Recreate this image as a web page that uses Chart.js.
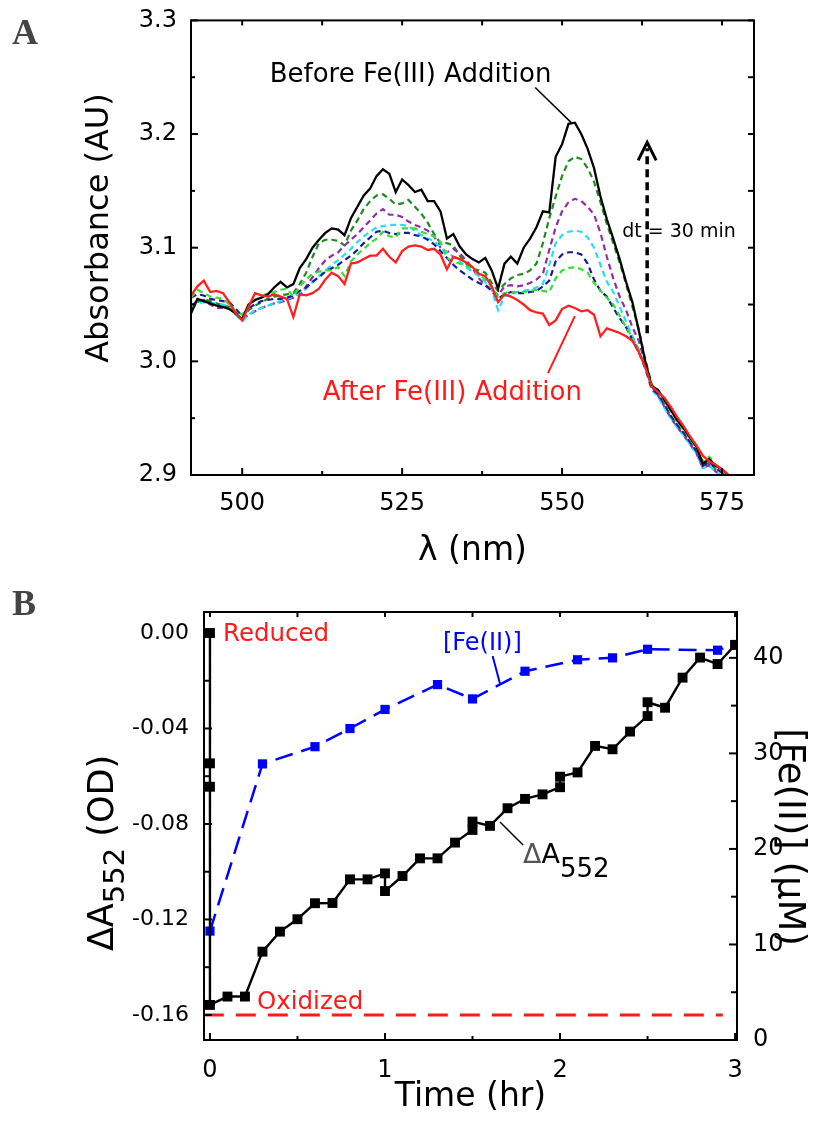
<!DOCTYPE html>
<html><head><meta charset="utf-8">
<script src="https://cdn.jsdelivr.net/npm/chart.js@4.4.1/dist/chart.umd.min.js"></script>
<style>
html,body{margin:0;padding:0;background:#fff;}
#wrap{position:relative;width:825px;height:1124px;overflow:hidden;background:#fff;}
#ca{position:absolute;left:0;top:0;width:825px;height:580px;}
#cb{position:absolute;left:0;top:580px;width:825px;height:544px;}
</style></head><body>
<div id="wrap"><canvas id="ca" width="825" height="580"></canvas><canvas id="cb" width="825" height="544"></canvas></div>
<script>
// ---------- Panel A data ----------
const wavelength = [492,493,494,495,496,497,498,499,500,501,502,503,504,505,506,507,508,509,510,511,512,513,514,515,516,517,518,519,520,521,522,523,524,525,526,527,528,529,530,531,532,533,534,535,536,537,538,539,540,541,542,543,544,545,546,547,548,549,550,551,552,553,554,555,556,557,558,559,560,561,562,563,564,565,566,567,568,569,570,571,572,573,574,575,576,577,578];
const absBefore = [3.042,3.055,3.053,3.051,3.049,3.048,3.046,3.042,3.037,3.050,
 3.054,3.056,3.059,3.065,3.070,3.065,3.068,3.082,3.090,3.100,
 3.107,3.113,3.117,3.116,3.111,3.126,3.136,3.146,3.152,3.163,
 3.169,3.165,3.149,3.160,3.155,3.149,3.151,3.141,3.141,3.132,
 3.108,3.112,3.101,3.094,3.090,3.087,3.091,3.080,3.064,3.086,
 3.092,3.086,3.100,3.108,3.118,3.132,3.131,3.180,3.191,3.209,
 3.210,3.200,3.187,3.170,3.145,3.125,3.108,3.090,3.070,3.052,
 3.027,3.000,2.978,2.975,2.966,2.957,2.948,2.941,2.933,2.925,
 2.910,2.914,2.908,2.905,2.900,2.894,2.888];
const absT1 = [3.045,3.052,3.055,3.053,3.051,3.049,3.048,3.043,3.038,3.045,
 3.049,3.052,3.055,3.057,3.058,3.059,3.060,3.068,3.078,3.092,
 3.104,3.107,3.107,3.106,3.102,3.115,3.124,3.134,3.141,3.146,
 3.147,3.143,3.138,3.139,3.142,3.136,3.130,3.122,3.112,3.104,
 3.104,3.102,3.093,3.086,3.081,3.080,3.078,3.069,3.062,3.068,
 3.073,3.076,3.077,3.080,3.086,3.104,3.126,3.145,3.163,3.176,
 3.180,3.178,3.170,3.158,3.140,3.121,3.104,3.087,3.068,3.048,
 3.028,3.002,2.980,2.972,2.962,2.952,2.944,2.937,2.929,2.921,
 2.908,2.911,2.905,2.902,2.897,2.892,2.886];
const absT2 = [3.049,3.053,3.054,3.050,3.047,3.047,3.047,3.041,3.037,3.041,
 3.044,3.047,3.049,3.051,3.052,3.054,3.056,3.058,3.066,3.074,
 3.082,3.089,3.093,3.096,3.102,3.107,3.112,3.118,3.124,3.130,
 3.134,3.129,3.129,3.127,3.123,3.120,3.118,3.115,3.110,3.100,
 3.096,3.099,3.095,3.089,3.082,3.073,3.067,3.063,3.058,3.066,
 3.067,3.066,3.067,3.069,3.072,3.077,3.098,3.118,3.132,3.140,
 3.143,3.141,3.136,3.129,3.113,3.092,3.073,3.057,3.045,3.030,
 3.018,2.998,2.978,2.970,2.960,2.950,2.942,2.935,2.927,2.919,
 2.906,2.909,2.903,2.900,2.895,2.890,2.885];
const absT3 = [3.048,3.051,3.052,3.051,3.051,3.050,3.048,3.041,3.035,3.041,
 3.045,3.047,3.049,3.051,3.053,3.055,3.057,3.060,3.064,3.070,
 3.075,3.080,3.085,3.089,3.094,3.099,3.105,3.110,3.114,3.118,
 3.119,3.120,3.120,3.120,3.119,3.115,3.111,3.108,3.106,3.100,
 3.096,3.092,3.088,3.083,3.079,3.075,3.070,3.063,3.045,3.057,
 3.059,3.061,3.062,3.063,3.065,3.068,3.085,3.104,3.111,3.114,
 3.115,3.114,3.109,3.100,3.085,3.070,3.061,3.048,3.035,3.022,
 3.010,2.994,2.975,2.969,2.959,2.950,2.942,2.935,2.927,2.919,
 2.906,2.908,2.903,2.899,2.894,2.889,2.884];
const absT4 = [3.056,3.059,3.058,3.055,3.054,3.053,3.052,3.046,3.040,3.047,
 3.050,3.053,3.054,3.055,3.055,3.056,3.058,3.062,3.065,3.070,
 3.074,3.079,3.082,3.085,3.089,3.093,3.098,3.104,3.109,3.114,
 3.115,3.113,3.112,3.113,3.113,3.111,3.110,3.107,3.103,3.097,
 3.091,3.085,3.080,3.076,3.072,3.069,3.067,3.062,3.055,3.059,
 3.061,3.060,3.060,3.061,3.062,3.066,3.071,3.088,3.094,3.096,
 3.096,3.094,3.086,3.072,3.062,3.057,3.047,3.038,3.030,3.019,
 3.008,2.994,2.976,2.971,2.962,2.952,2.944,2.937,2.929,2.921,
 2.908,2.912,2.906,2.902,2.897,2.891,2.886];
const absT5 = [3.056,3.063,3.060,3.057,3.056,3.055,3.050,3.044,3.041,3.048,
 3.054,3.057,3.060,3.061,3.063,3.064,3.057,3.066,3.072,3.077,
 3.079,3.080,3.080,3.083,3.075,3.088,3.094,3.099,3.104,3.108,
 3.114,3.110,3.109,3.117,3.117,3.117,3.114,3.112,3.110,3.105,
 3.091,3.088,3.086,3.084,3.082,3.077,3.072,3.065,3.057,3.060,
 3.061,3.061,3.061,3.062,3.063,3.062,3.061,3.073,3.080,3.082,
 3.083,3.081,3.078,3.069,3.062,3.056,3.050,3.040,3.030,3.021,
 3.010,2.996,2.978,2.974,2.965,2.956,2.947,2.940,2.932,2.924,
 2.912,2.916,2.909,2.905,2.900,2.894,2.889];
const absAfter = [3.058,3.066,3.071,3.061,3.062,3.060,3.052,3.042,3.036,3.048,
 3.060,3.058,3.057,3.059,3.057,3.055,3.039,3.059,3.058,3.060,
 3.064,3.072,3.078,3.075,3.068,3.086,3.087,3.090,3.093,3.093,
 3.099,3.092,3.087,3.097,3.101,3.102,3.101,3.098,3.099,3.094,
 3.081,3.092,3.090,3.087,3.083,3.077,3.075,3.066,3.052,3.059,
 3.057,3.054,3.050,3.045,3.043,3.042,3.032,3.036,3.046,3.049,
 3.047,3.044,3.045,3.041,3.022,3.029,3.027,3.025,3.022,3.018,
 3.008,2.995,2.978,2.973,2.968,2.960,2.951,2.943,2.934,2.926,
 2.917,2.912,2.909,2.905,2.900,2.895,2.889];

const xTicksA = [500,525,550,575];
const xMinorA = [512.5,537.5,562.5];
const yTicksA = [2.9,3.0,3.1,3.2,3.3];
const yLabelsA = ['2.9','3.0','3.1','3.2','3.3'];
const yMinorA = [2.95,3.05,3.15,3.25];

// ---------- Panel B data ----------
const timeA552 = [0,0,0,0,0.1,0.2,0.3,0.4,0.5,0.6,0.7,0.8,0.9,1.0,1.0,1.1,1.2,1.3,1.4,1.5,1.5,1.6,1.7,1.8,1.9,2.0,2.0,2.1,2.2,2.3,2.4,2.5,2.5,2.6,2.7,2.8,2.9,3.0];
const dA552 = [0.000,-0.0546,-0.0644,-0.1558,-0.1523,-0.1523,-0.1335,-0.1251,-0.1199,-0.1132,-0.1131,-0.1032,-0.1032,-0.1007,-0.1081,-0.1018,-0.0944,-0.0944,-0.0878,-0.0825,-0.0790,-0.0808,-0.0734,-0.0695,-0.0676,-0.0646,-0.0602,-0.0584,-0.0473,-0.0487,-0.0413,-0.0348,-0.0290,-0.0313,-0.0187,-0.0103,-0.0130,-0.0050];
const timeFe = [0,0.3,0.6,0.8,1.0,1.3,1.5,1.8,2.1,2.3,2.5,2.9,3.0];
const feII = [11.4,28.9,30.7,32.6,34.6,37.2,35.7,38.6,39.8,40.0,40.9,40.8,41.4];
const oxidizedLevel = -0.16;
const oxidizedSpan = [-0.035, 2.93];

const xTicksB = [0,1,2,3];
const xMinorB = [0.5,1.5,2.5];
const yTicksB = [-0.16,-0.12,-0.08,-0.04,0];
const yLabelsB = ['-0.16','-0.12','-0.08','-0.04','0.00'];
const yMinorB = [-0.14,-0.10,-0.06,-0.02];
const y2TicksB = [0,10,20,30,40];
const y2MinorB = [5,15,25,35];

// ---------- helpers ----------
const FONT = '"DejaVu Sans", "Liberation Sans", Arial, sans-serif';
function pts(xs, ys){ return xs.map((x,i)=>({x:x, y:ys[i]})); }
function line(ctx,x1,y1,x2,y2){ ctx.beginPath(); ctx.moveTo(x1,y1); ctx.lineTo(x2,y2); ctx.stroke(); }
function rich(ctx, parts, x, y, rot, align){
  ctx.save(); ctx.translate(x,y); ctx.rotate(rot||0);
  let total=0;
  parts.forEach(p=>{ ctx.font=(p.weight||'')+' '+p.size+'px '+(p.family||FONT); p.w=ctx.measureText(p.t).width; total+=p.w; });
  let cx = align==='center' ? -total/2 : (align==='right' ? -total : 0);
  ctx.textAlign='left'; ctx.textBaseline='alphabetic';
  parts.forEach(p=>{ ctx.font=(p.weight||'')+' '+p.size+'px '+(p.family||FONT); ctx.fillStyle=p.color||'#000'; ctx.fillText(p.t,cx,p.dy||0); cx+=p.w; });
  ctx.restore();
}
function frame(chart, spec){
  const ctx=chart.ctx, a=chart.chartArea;
  ctx.save(); ctx.strokeStyle='#000'; ctx.lineWidth=2; ctx.lineCap='butt';
  ctx.strokeRect(a.left, a.top, a.right-a.left, a.bottom-a.top);
  const sx=chart.scales.x, sy=chart.scales.y;
  spec.bottom.forEach(([v,l])=>{ const p=sx.getPixelForValue(v); line(ctx,p,a.bottom,p,a.bottom-l); });
  spec.top.forEach(([v,l])=>{ const p=sx.getPixelForValue(v); line(ctx,p,a.top,p,a.top+l); });
  spec.left.forEach(([v,l])=>{ const p=sy.getPixelForValue(v); line(ctx,a.left,p,a.left+l,p); });
  const sr = spec.rightScale ? chart.scales[spec.rightScale] : sy;
  spec.right.forEach(([v,l])=>{ const p=sr.getPixelForValue(v); line(ctx,a.right,p,a.right-l,p); });
  ctx.restore();
}
const withLen = (arr,l)=>arr.map(v=>[v,l]);

// ---------- Chart A ----------
const dsA = (data, color, dash, w)=>({data:pts(wavelength,data), borderColor:color, borderWidth:w||2, borderDash:dash||[], pointRadius:0, tension:0, fill:false});
const annotA = {
  id:'annotA',
  afterDatasetsDraw(chart){
    const ctx=chart.ctx, sx=chart.scales.x, sy=chart.scales.y;
    frame(chart,{
      bottom: withLen(xTicksA,7).concat(withLen(xMinorA,4)),
      top: withLen(xTicksA.concat(xMinorA),5),
      left: withLen(yTicksA,7).concat(withLen(yMinorA,4)),
      right: withLen(yTicksA.concat(yMinorA),6)
    });
    const X=v=>sx.getPixelForValue(v), Y=v=>sy.getPixelForValue(v);
    rich(ctx,[{t:'A',size:36,weight:'bold',family:'"Liberation Serif", "DejaVu Serif", serif',color:'#444'}],12,44,0,'left');
    rich(ctx,[{t:'Absorbance (AU)',size:32}],108,228,-Math.PI/2,'center');
    rich(ctx,[{t:'λ (nm)',size:33}],(chart.chartArea.left+chart.chartArea.right)/2,560,0,'center');
    rich(ctx,[{t:'Before Fe(III) Addition',size:26}],X(504.3),Y(3.2455),0,'left');
    ctx.save(); ctx.strokeStyle='#000'; ctx.lineWidth=1.5; line(ctx,X(545.8),Y(3.241),X(551.4),Y(3.2103)); ctx.restore();
    rich(ctx,[{t:'After Fe(III) Addition',size:26,color:'#ff1a1a'}],X(512.6),Y(2.966),0,'left');
    ctx.save(); ctx.strokeStyle='#ff1a1a'; ctx.lineWidth=2; line(ctx,X(547.8),Y(2.9897),X(552.0),Y(3.0398)); ctx.restore();
    ctx.save(); ctx.strokeStyle='#000'; ctx.lineWidth=3.5;
    ctx.setLineDash([8,5]); line(ctx,X(563.3),Y(3.0248),X(563.3),Y(3.1875));
    ctx.setLineDash([]); ctx.lineWidth=3;
    ctx.beginPath(); const ax=X(563.3), ay=Y(3.1927);
    ctx.moveTo(ax-9,ay+18); ctx.lineTo(ax,ay); ctx.lineTo(ax+9,ay+18); ctx.stroke(); ctx.restore();
    rich(ctx,[{t:'dt = 30 min',size:19}],X(559.4),Y(3.1092),0,'left');
  }
};
new Chart(document.getElementById('ca'),{
  type:'line',
  data:{datasets:[
    dsA(absAfter,'#ff2020',[],2.3),
    dsA(absBefore,'#000000',[],2.3),
    dsA(absT5,'#33e033',[6,4],2.2),
    dsA(absT4,'#1a1a9a',[6,4],2.2),
    dsA(absT3,'#22e0f0',[6,4],2.2),
    dsA(absT2,'#8e2fa6',[6,4],2.2),
    dsA(absT1,'#1f8a1f',[6,4],2.2)
  ]},
  options:{
    responsive:false, animation:false, events:[],
    layout:{padding:{top:20,right:71,left:0,bottom:0}},
    plugins:{legend:{display:false},tooltip:{enabled:false}},
    scales:{
      x:{type:'linear',min:492,max:580,grid:{display:false},border:{display:false},
        afterBuildTicks:s=>{s.ticks=xTicksA.map(v=>({value:v}));},
        afterFit:s=>{s.height=105;},
        ticks:{font:{family:'DejaVu Sans',size:24},color:'#000',padding:6,maxRotation:0,autoSkip:false}},
      y:{type:'linear',min:2.9,max:3.3,grid:{display:false},border:{display:false},
        afterBuildTicks:s=>{s.ticks=yTicksA.map(v=>({value:v}));},
        afterFit:s=>{s.width=191;},
        ticks:{font:{family:'DejaVu Sans',size:24},color:'#000',padding:6,autoSkip:false,callback:(v,i)=>yLabelsA[i]}}
    }
  },
  plugins:[annotA]
});

// ---------- Chart B ----------
const annotB = {
  id:'annotB',
  afterDatasetsDraw(chart){
    const ctx=chart.ctx, sx=chart.scales.x, sy=chart.scales.y, s2=chart.scales.y2, a=chart.chartArea;
    frame(chart,{
      bottom: withLen(xTicksB,7).concat(withLen(xMinorB,4)),
      top: withLen(xTicksB.concat(xMinorB),5),
      left: withLen(yTicksB,8).concat(withLen(yMinorB,6)),
      right: withLen(y2TicksB,8).concat(withLen(y2MinorB,6)),
      rightScale:'y2'
    });
    const X=v=>sx.getPixelForValue(v), Y=v=>sy.getPixelForValue(v), Y2=v=>s2.getPixelForValue(v);
    rich(ctx,[{t:'B',size:36,weight:'bold',family:'"Liberation Serif", "DejaVu Serif", serif',color:'#444'}],12,35,0,'left');
    rich(ctx,[{t:'ΔA',size:35},{t:'552',size:29,dy:11},{t:' (OD)',size:35}],113,273,-Math.PI/2,'center');
    rich(ctx,[{t:'[Fe(II)] (μM)',size:37}],779,257,Math.PI/2,'center');
    rich(ctx,[{t:'Time (hr)',size:33}],(a.left+a.right)/2,526,0,'center');
    rich(ctx,[{t:'Reduced',size:24.5,color:'#ff1a1a'}],X(0.0743),Y(-0.0032),0,'left');
    rich(ctx,[{t:'Oxidized',size:24.5,color:'#ff1a1a'}],X(0.2686),Y(-0.1576),0,'left');
    rich(ctx,[{t:'[Fe(II)]',size:24,color:'#0000ff'}],X(1.331),Y2(40.84),0,'left');
    ctx.save(); ctx.strokeStyle='#0000ff'; ctx.lineWidth=2; line(ctx,X(1.615),Y2(40.2),X(1.657),Y2(37.3)); ctx.restore();
    rich(ctx,[{t:'Δ',size:27,color:'#555'},{t:'A',size:27},{t:'552',size:26,dy:14}],X(1.789),Y(-0.0963),0,'left');
    ctx.save(); ctx.strokeStyle='#000'; ctx.lineWidth=1.5; line(ctx,X(1.657),Y(-0.0792),X(1.789),Y(-0.0888)); ctx.restore();
  }
};
new Chart(document.getElementById('cb'),{
  type:'line',
  data:{datasets:[
    {data:pts(timeA552,dA552),yAxisID:'y',borderColor:'#000',borderWidth:2.4,tension:0,pointStyle:'rect',pointRadius:7,pointBackgroundColor:'#000',pointBorderWidth:0,fill:false},
    {data:pts(timeFe,feII),yAxisID:'y2',borderColor:'#0000ff',borderWidth:2.5,borderDash:[18,9],tension:0,pointStyle:'rect',pointRadius:6.5,pointBackgroundColor:'#0000ff',pointBorderWidth:0,fill:false},
    {data:pts(oxidizedSpan,[oxidizedLevel,oxidizedLevel]),yAxisID:'y',borderColor:'#ff1a1a',borderWidth:3,borderDash:[20,12],pointRadius:0,tension:0,fill:false}
  ]},
  options:{
    responsive:false, animation:false, events:[],
    layout:{padding:{top:32,right:0,left:0,bottom:0}},
    plugins:{legend:{display:false},tooltip:{enabled:false}},
    scales:{
      x:{type:'linear',min:-0.034,max:3.011,grid:{display:false},border:{display:false},
        afterBuildTicks:s=>{s.ticks=xTicksB.map(v=>({value:v}));},
        afterFit:s=>{s.height=84;},
        ticks:{font:{family:'DejaVu Sans',size:24},color:'#000',padding:8,maxRotation:0,autoSkip:false}},
      y:{type:'linear',position:'left',min:-0.1705,max:0.0088,grid:{display:false},border:{display:false},
        afterBuildTicks:s=>{s.ticks=yTicksB.map(v=>({value:v}));},
        afterFit:s=>{s.width=204;},
        ticks:{font:{family:'DejaVu Sans',size:22},color:'#000',padding:7,autoSkip:false,callback:(v,i)=>yLabelsB[i]}},
      y2:{type:'linear',position:'right',min:0,max:44.8,grid:{display:false},border:{display:false},
        afterBuildTicks:s=>{s.ticks=y2TicksB.map(v=>({value:v}));},
        afterFit:s=>{s.width=88;},
        ticks:{font:{family:'DejaVu Sans',size:24},color:'#000',padding:8,autoSkip:false}}
    }
  },
  plugins:[annotB]
});
</script></body></html>
